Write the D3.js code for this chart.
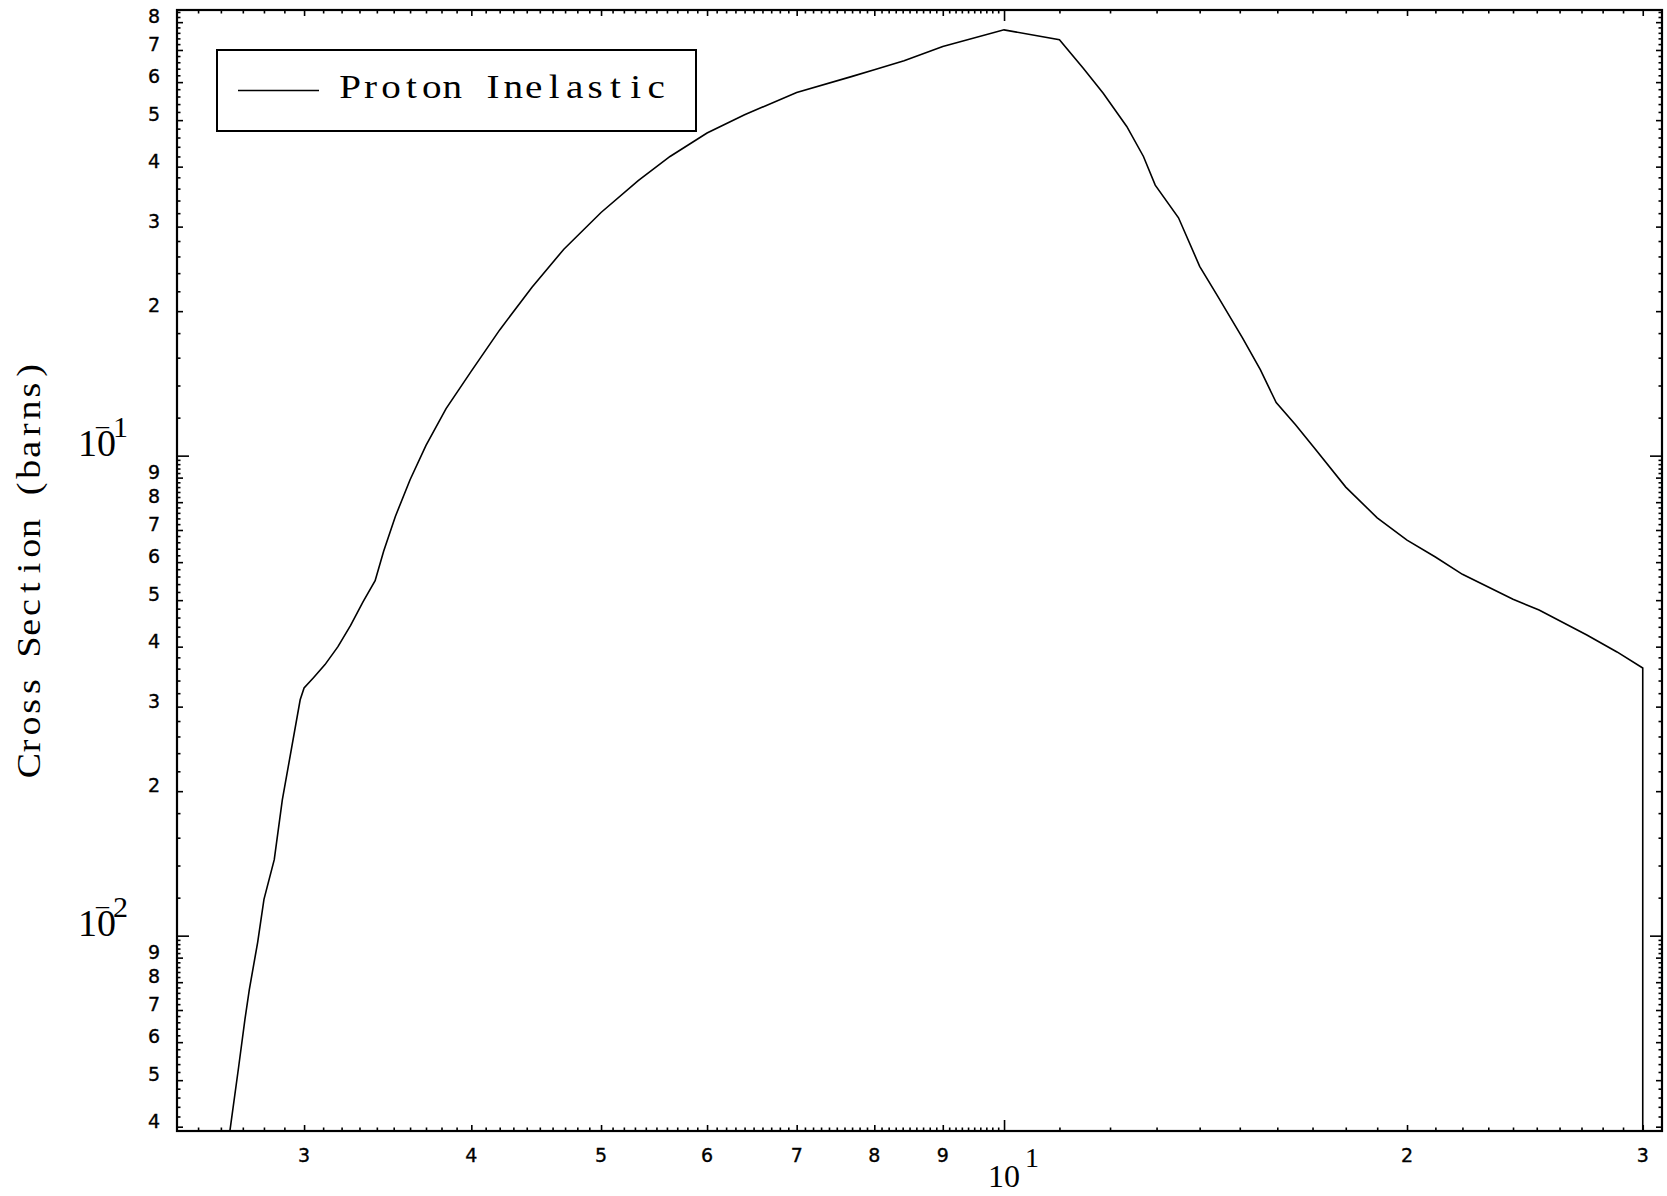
<!DOCTYPE html>
<html>
<head>
<meta charset="utf-8">
<script src="https://cdn.jsdelivr.net/npm/d3@7/dist/d3.min.js"></script>
<style>
body{margin:0;background:#fff;}
svg{display:block;}
.tick line{stroke:#000;stroke-width:1.6;}
.digit{font-family:"DejaVu Sans",sans-serif;font-size:19px;fill:#000;stroke:#000;stroke-width:0.35;}
.pow{font-family:"Liberation Serif",serif;fill:#000;}
.mono{font-family:"Liberation Serif",serif;font-size:33px;fill:#000;}
</style>
</head>
<body>
<svg id="chart" width="1667" height="1196"></svg>
<script>
let energy=[2.64,2.68,2.71,2.73,2.77,2.80,2.85,2.89,2.98,3.00,3.05,3.11,3.18,3.25,3.32,3.39,3.44,3.51,3.60,3.70,3.83,4.00,4.20,4.44,4.69,5.00,5.33,5.63,6.00,6.40,7.00,7.69,8.00,8.42,9.00,10.0,11.0,11.46,11.86,12.35,12.71,12.97,13.5,14.0,14.44,15.07,15.54,15.97,16.51,17.09,18.0,19.0,20.0,21.0,22.0,24.0,25.1,27.25,28.7,30.0,30.0];
let crossSection=[0.0039,0.0053,0.0067,0.0077,0.0097,0.0119,0.0144,0.0192,0.031,0.0328,0.0345,0.0367,0.0400,0.0443,0.0496,0.0549,0.0632,0.0747,0.0891,0.105,0.1253,0.150,0.1828,0.2244,0.2692,0.321,0.374,0.420,0.470,0.513,0.571,0.616,0.637,0.665,0.712,0.771,0.735,0.641,0.569,0.485,0.420,0.366,0.313,0.248,0.215,0.176,0.151,0.129,0.116,0.103,0.086,0.0742,0.0667,0.0615,0.0566,0.0502,0.0477,0.0423,0.0390,0.0361,0.001];
let seriesName="Proton Inelastic";
let yTitle="Cross Section (barns)";
let xDigitTicks=[3,4,5,6,7,8,9,20,30];
let xDecadeTicks=[10];
let xDecadeLabels=["1"];
let yDigitTicks=[0.004,0.005,0.006,0.007,0.008,0.009,0.02,0.03,0.04,0.05,0.06,0.07,0.08,0.09,0.2,0.3,0.4,0.5,0.6,0.7,0.8];
let yDecadeTicks=[0.01,0.1];
let yDecadeLabels=["2","1"];

const plotL=177,plotR=1662,plotT=10,plotB=1131;
const stretch=1.15;
let x=d3.scaleLog().domain([2.411,31.01]).range([plotL,plotR]);
let y=d3.scaleLog().domain([0.003918,0.848]).range([plotB,plotT]);

let inX=(v)=>v>=x.domain()[0]&&v<=x.domain()[1];
let inY=(v)=>v>=y.domain()[0]&&v<=y.domain()[1];
let xMinorTicks=d3.range(24,100).filter((i)=>i%10!==0).map((i)=>i/10)
  .concat(d3.range(11,31).filter((i)=>i%10!==0)).filter(inX);
let yMinorTicks=[];
[0.001,0.01,0.1].forEach((dec)=>{
  d3.range(5,50).filter((k)=>k%5!==0).forEach((k)=>yMinorTicks.push(+(k*0.2*dec).toPrecision(6)));
});
yMinorTicks=yMinorTicks.filter(inY);
let leadDigit=(v)=>String(Math.round(v/Math.pow(10,Math.floor(Math.log10(v)+1e-9))));

let svg=d3.select("#chart");

const drawTicks=(axis,scale,values,size,transform)=>{
  svg.append("g")
    .attr("transform",transform)
    .call(axis(scale).tickValues(values).tickSize(-size).tickFormat(""))
    .call((g)=>g.select(".domain").remove());
}

// typewriter look: every character centred in a fixed cell, glyphs widened a bit
const cellText=(sel,str,x0,cell)=>{
  sel.selectAll("tspan")
    .data(str.split(""))
    .enter()
      .append("tspan")
      .attr("x",(c,i)=>(x0+cell*i)/stretch)
      .text((c)=>c);
}

[[xMinorTicks,3.5],[xDigitTicks,6],[xDecadeTicks,11]].forEach(([vals,len])=>{
  drawTicks(d3.axisBottom,x,vals,len,`translate(0,${plotB})`);
  drawTicks(d3.axisTop,x,vals,len,`translate(0,${plotT})`);
});
[[yMinorTicks,3.5],[yDigitTicks,6],[yDecadeTicks,12]].forEach(([vals,len])=>{
  drawTicks(d3.axisLeft,y,vals,len,`translate(${plotL},0)`);
  drawTicks(d3.axisRight,y,vals,len,`translate(${plotR},0)`);
});

svg.append("rect")
  .attr("x",plotL).attr("y",plotT)
  .attr("width",plotR-plotL).attr("height",plotB-plotT)
  .attr("fill","none").attr("stroke","#000").attr("stroke-width",2.2);

svg.append("g").selectAll("text")
  .data(xDigitTicks)
  .enter()
    .append("text")
    .attr("class","digit")
    .attr("x",(d)=>x(d))
    .attr("y",plotB+31)
    .attr("text-anchor","middle")
    .text(leadDigit);

svg.append("g").selectAll("text")
  .data(yDigitTicks)
  .enter()
    .append("text")
    .attr("class","digit")
    .attr("x",plotL-17)
    .attr("y",(d)=>y(d)+1)
    .attr("text-anchor","end")
    .text(leadDigit);

let xPow=svg.append("g").selectAll("text")
  .data(xDecadeTicks)
  .enter()
    .append("text")
    .attr("class","pow")
    .attr("x",(d)=>x(d)-16)
    .attr("y",plotB+56)
    .style("font-size","32px")
    .text("10");
xPow.append("tspan")
  .attr("dx",5).attr("dy",-20)
  .style("font-size","28px")
  .text((d,i)=>xDecadeLabels[i]);

let yPow=svg.append("g").selectAll("text")
  .data(yDecadeTicks)
  .enter()
    .append("text")
    .attr("class","pow")
    .attr("x",78)
    .attr("y",(d)=>y(d))
    .style("font-size","38px")
    .text("10");
yPow.append("tspan")
  .attr("dx",-20).attr("dy",-22)
  .style("font-size","26px")
  .text("\u2013");
yPow.append("tspan")
  .attr("dx",4).attr("dy",3)
  .style("font-size","30px")
  .text((d,i)=>yDecadeLabels[i]);

let title=svg.append("text")
  .attr("class","mono")
  .attr("transform",`translate(40,568) rotate(-90) scale(${stretch},1)`)
  .attr("text-anchor","middle");
cellText(title,yTitle,-10*19.76,19.76);

svg.append("clipPath").attr("id","plotclip")
  .append("rect")
  .attr("x",plotL).attr("y",plotT)
  .attr("width",plotR-plotL).attr("height",plotB-plotT);

let points=energy.map((e,i)=>[e,crossSection[i]]);
let line=d3.line().x((d)=>x(d[0])).y((d)=>y(d[1]));
svg.append("path")
  .datum(points)
  .attr("clip-path","url(#plotclip)")
  .attr("d",line)
  .attr("fill","none")
  .attr("stroke","#000")
  .attr("stroke-width",1.6);

let legend=svg.append("g");
legend.append("rect")
  .attr("x",217).attr("y",50)
  .attr("width",479).attr("height",81)
  .attr("fill","#fff").attr("stroke","#000").attr("stroke-width",2);
legend.append("line")
  .attr("x1",238).attr("x2",319)
  .attr("y1",90.5).attr("y2",90.5)
  .attr("stroke","#000").attr("stroke-width",1.6);
let legendText=legend.append("text")
  .attr("class","mono")
  .attr("transform",`translate(0,98) scale(${stretch},1)`)
  .attr("text-anchor","middle")
  .style("font-size","34px");
cellText(legendText,seriesName,350.2,20.4);
</script>
</body>
</html>
